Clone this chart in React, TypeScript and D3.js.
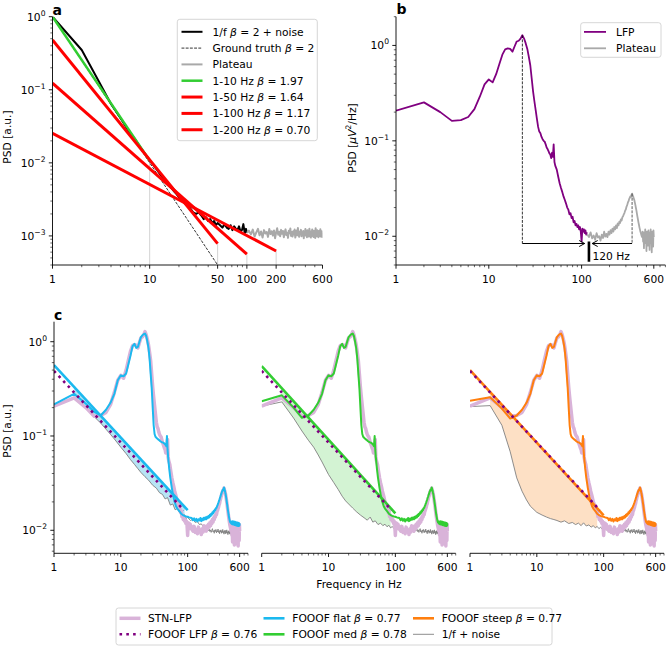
import React from "react";
import * as d3 from "d3";

const FONT = "DejaVu Sans, Verdana, sans-serif";
const FS = 10.7;

// ---------------- Panel a data ----------------
const A_NOISE_F = [1,2,3,4,5,6,7,8,9,10,11,12,13,14,15,16,17,18,19,20,22,24,26,28,30,32,34,36,38,40,42,44,46,48,50,53,56,59,62,65,68,71,74,77,80,83,86,89,92,95,98,100];
const A_NOISE_P = [1.0,0.35,0.13,0.064,0.041,0.028,0.0215,0.0165,0.0132,0.0108,0.0092,0.0079,0.0068,0.006,0.0054,0.0048,0.0044,0.004,0.0037,0.0034,0.003,0.0027,0.0024,0.0021,0.0020,0.0021,0.0019,0.0017,0.0018,0.0016,0.0017,0.0015,0.0016,0.0014,0.0015,0.0014,0.0013,0.00145,0.0013,0.00125,0.0014,0.0012,0.00135,0.00125,0.0012,0.00135,0.00115,0.0012,0.00145,0.0011,0.00125,0.0011];
// plateau: 100 Hz .. 600 Hz, 5 Hz steps
const A_PLATEAU_START = 100;
const A_PLATEAU_STEP = 5;
const A_PLATEAU_P = [
1.10e-3,1.18e-3,1.05e-3,1.22e-3,0.98e-3,1.12e-3,1.25e-3,1.02e-3,1.15e-3,0.95e-3,1.20e-3,1.08e-3,1.13e-3,0.97e-3,1.24e-3,1.06e-3,1.16e-3,1.01e-3,1.19e-3,0.93e-3,
1.11e-3,1.27e-3,1.04e-3,1.14e-3,0.99e-3,1.21e-3,1.07e-3,1.17e-3,0.96e-3,1.12e-3,1.23e-3,1.03e-3,1.10e-3,0.94e-3,1.18e-3,1.09e-3,1.26e-3,1.00e-3,1.13e-3,0.98e-3,
1.16e-3,1.05e-3,1.22e-3,0.95e-3,1.11e-3,1.19e-3,1.02e-3,1.28e-3,1.06e-3,0.97e-3,1.14e-3,1.08e-3,1.21e-3,0.99e-3,1.12e-3,1.04e-3,1.17e-3,0.93e-3,1.15e-3,1.07e-3,
1.24e-3,1.01e-3,1.10e-3,0.96e-3,1.20e-3,1.09e-3,1.13e-3,0.98e-3,1.25e-3,1.03e-3,1.16e-3,0.95e-3,1.11e-3,1.06e-3,1.22e-3,1.00e-3,1.14e-3,0.97e-3,1.18e-3,1.08e-3,
1.12e-3,0.94e-3,1.27e-3,1.05e-3,1.15e-3,0.99e-3,1.20e-3,1.02e-3,1.10e-3,0.96e-3,1.17e-3,1.07e-3,1.13e-3,1.00e-3,1.23e-3,0.98e-3,1.11e-3,1.04e-3,1.16e-3,0.97e-3,1.09e-3];
const A_FIT_NAMES = ["1-10 Hz", "1-50 Hz", "1-100 Hz", "1-200 Hz"];
const A_FIT_END = [10, 50, 100, 200];
const A_FIT_OFFSET = [1.0, 0.48, 0.123, 0.0254];
const A_FIT_BETA = [1.97, 1.64, 1.17, 0.70];
const A_FIT_COLOR = ["#32cd32", "#ff0000", "#ff0000", "#ff0000"];
const A_TRUTH_BETA = 2;
const A_X_TICKS = [1, 10, 50, 100, 200, 600];

// ---------------- Panel b / c LFP data ----------------
const LFP_F = [1,2,3,4,5,6,7,8,9,10,11,12,13,14,15,16,17,18,19,20,21,22,23,24,25,26,27,28,29,30,31,32,33,34,35,36,37,38,39,40,41,42,43,44,45,46,47,48,49,50,51,52,
54,56,58,60,62,64,66,68,70,72,74,76,78,80,82,84,86,88,90,92,94,96,98,100,102,104,106,108,110,112,114];
const LFP_P = [0.207,0.253,0.20,0.162,0.165,0.178,0.215,0.29,0.39,0.44,
0.41,0.50,0.64,0.80,0.91,0.93,0.92,0.86,0.98,1.10,
1.12,1.18,1.28,1.18,1.05,0.92,0.76,0.62,0.45,0.33,
0.26,0.21,0.17,0.14,0.125,0.12,0.11,0.104,0.10,0.098,
0.092,0.085,0.082,0.078,0.074,0.072,0.066,0.075,0.068,0.092,
0.060,0.055,
0.050,0.042,0.036,0.032,0.029,0.026,0.024,0.022,0.020,0.019,0.017,0.0175,0.0155,0.016,0.014,0.0145,0.013,0.0135,0.0125,0.013,0.0118,0.0125,0.0112,0.0088,0.012,0.0112,0.0118,0.0108,0.0115,0.0104,0.011];
// LFP plateau 115..600 Hz, 5 Hz steps
const LFP_PLAT_START = 115;
const LFP_PLAT_STEP = 5;
const LFP_PLAT_P = [
0.0105,0.0098,0.0110,0.0095,0.0102,0.0092,0.0108,0.0097,0.0100,0.0090,0.0104,0.0096,0.0112,0.0099,
0.0106,0.0098,0.0112,0.0104,0.0116,0.0108,0.0120,0.0112,0.0125,0.0118,0.0130,0.0122,0.0136,0.0130,0.0142,0.0138,0.0150,0.0146,0.0158,0.0162,0.0170,0.0176,0.0186,0.0192,0.0205,0.0212,0.0225,0.0232,0.0245,0.0252,0.0262,0.0258,0.0272,0.0280,
0.0268,0.0262,0.0248,0.0240,0.0225,0.0212,0.0198,0.0186,0.0172,0.0160,0.0150,0.0140,0.0132,0.0124,0.0118,0.0112,0.0108,0.0104,0.0100,0.0098,
0.0112,0.0088,0.0105,0.0075,0.0110,0.0096,0.0118,0.0085,0.0104,0.0070,0.0112,0.0092,0.0108,0.0080,0.0115,0.0095,0.0102,0.0072,0.0110,0.0090,0.0118,0.0085,0.0105,0.0068,0.0112,0.0094,0.0108,0.0078,0.0115,0.0098];
const B_BETA_PEAK = 23;
const B_PLATEAU_PEAK = 350;
const B_CUTOFF = 120;
const B_ARROW_P = 0.0084;
const B_ARROW_ENDS = [108, 130];
const B_BAR_P = [0.0088, 0.0054];
const B_X_TICKS = [1, 10, 100, 600];

// ---------------- Panel c data ----------------
const C_NAMES = ["FOOOF flat", "FOOOF med", "FOOOF steep"];
const C_BETAS = ["0.77", "0.78", "0.77"];
const C_COLORS = ["#1bb9ef", "#32cd32", "#ff7f0e"];
const C_FILLS = ["#b6e4f5", "#d3f3d3", "#fde0c5"];
const C_LOW_F = [1, 2, 3, 4];
const C_FLAT_LOW = [0.216, 0.28, 0.22, 0.18];
const C_MED_LOW = [0.234, 0.27, 0.20, 0.156];
const C_STEEP_LOW = [0.236, 0.257, 0.195, 0.153];
const C_MID_F = [5,6,7,8,9,10,11,12,13,14,15,16,17,18,19,20,21,22,23,24,25,26,27,28,29,30,31,32,33,35,37,39,41,43,45,47,48,49,50,51,53,55,58,61,64,67,70,75,80,85,90,95,100,105,110];
const C_MID_P = [0.165,0.19,0.225,0.28,0.39,0.44,0.43,0.46,0.58,0.72,0.90,0.95,0.86,0.88,1.0,1.12,1.17,1.20,1.22,1.15,1.0,0.85,0.65,0.45,0.32,0.2,0.13,0.105,0.098,0.094,0.091,0.088,0.086,0.085,0.083,0.08,0.078,0.10,0.072,0.06,0.045,0.036,0.028,0.023,0.02,0.018,0.017,0.016,0.015,0.0145,0.0142,0.014,0.0139,0.0137,0.0136];
const C_PLAT_START = 115;
const C_PLAT_STEP = 5;
const C_PLAT_P = [
0.0135,0.0128,0.0134,0.0126,0.0132,0.0124,0.0131,0.0127,0.0135,0.0125,0.0133,0.0128,0.0136,0.0130,
0.0137,0.0131,0.0139,0.0134,0.0142,0.0137,0.0146,0.0141,0.0150,0.0146,0.0155,0.0151,0.0160,0.0157,0.0166,0.0164,0.0172,0.0172,0.0180,0.0184,0.0192,0.0198,0.0206,0.0212,0.0222,0.0228,0.0238,0.0244,0.0254,0.0262,0.0268,0.0264,0.0276,0.0284,
0.0275,0.0266,0.0252,0.0242,0.0228,0.0214,0.0200,0.0188,0.0176,0.0165,0.0155,0.0146,0.0139,0.0133,0.0128,0.0124,0.0121,0.0125,0.0119,0.0123,
0.0117,0.0124,0.0116,0.0125,0.0118,0.0123,0.0115,0.0124,0.0117,0.0122,0.0114,0.0123,0.0116,0.0121,0.0113,0.0122,0.0115,0.0120,0.0112,0.0121,0.0114,0.0119,0.0111,0.0120,0.0113,0.0118,0.0111,0.0119,0.0112,0.0118];
const C_GRAY_F = [1,2,3,4,5,6,7,8,10,12,14,16,18,20,23,26,30,34,38,42,46,50,55,60,65,70,75,80,85,90,95,100,110,120,130,140,150,160,170,180,190,200];
const C_FLAT_GRAY = [0.21,0.25,0.20,0.16,0.137,0.118,0.104,0.093,0.076,0.065,0.056,0.050,0.045,0.041,0.037,0.034,0.030,0.028,0.025,0.024,0.0215,0.0222,0.0185,0.019,0.0165,0.017,0.0155,0.0152,0.0142,0.0146,0.0133,0.0137,0.0127,0.0131,0.0121,0.0124,0.0115,0.0117,0.0110,0.0112,0.0104,0.0106];
const C_MED_GRAY = [0.207,0.23,0.155,0.113,0.09,0.076,0.063,0.053,0.039,0.032,0.027,0.023,0.0205,0.019,0.0172,0.0158,0.0145,0.0136,0.0128,0.0138,0.0122,0.0126,0.0115,0.0119,0.0112,0.0116,0.0109,0.0113,0.0106,0.0110,0.0104,0.0107,0.0101,0.0106,0.0099,0.0104,0.0097,0.0103,0.0096,0.0101,0.0095,0.0100];
const C_STEEP_GRAY = [0.205,0.21,0.13,0.068,0.036,0.026,0.021,0.018,0.0155,0.0145,0.0138,0.0133,0.0130,0.0127,0.0122,0.0126,0.0118,0.0121,0.0115,0.0119,0.0112,0.0120,0.0111,0.0114,0.0108,0.0112,0.0106,0.0110,0.0104,0.0108,0.0103,0.0107,0.0101,0.0106,0.0099,0.0104,0.0097,0.0103,0.0096,0.0101,0.0095,0.0100];
const C_TAIL_START = 205;
const C_TAIL_STEP = 5;
const C_GRAY_TAIL = [
0.0099,0.0103,0.0097,0.0101,0.0095,0.0100,0.0104,0.0096,0.0099,0.0093,0.0101,0.0097,0.0102,0.0094,0.0099,0.0096,0.0103,0.0095,0.0098,0.0092,
0.0100,0.0096,0.0101,0.0093,0.0098,0.0095,0.0102,0.0094,0.0097,0.0091,0.0099,0.0095,0.0100,0.0092,0.0097,0.0094,0.0101,0.0093,0.0096,0.0090,
0.0098,0.0094,0.0099,0.0091,0.0096,0.0093,0.0100,0.0092,0.0095,0.0089,0.0097,0.0093,0.0098,0.0090,0.0095,0.0092,0.0099,0.0091,0.0094,0.0088,
0.0096,0.0092,0.0097,0.0089,0.0094,0.0091,0.0098,0.0090,0.0093,0.0087,0.0095,0.0091,0.0096,0.0088,0.0093,0.0090,0.0097,0.0089,0.0092,0.0094];
const C_FIT_OFFSET = [0.566, 0.55, 0.50];
const C_FIT_BETA = [0.77, 0.78, 0.77];
const C_FIT_END = 100;
const C_FILL_END = [90, 85, 80];
const C_FILL_START = 2;
const LFP_FIT_OFFSET = 0.49;
const LFP_FIT_BETA = 0.76;
const LFP_FIT_END = 88;

const PINK = "#d9b3d9";
const PURPLE = "#800080";
const PLAT_GRAY = "#a9a9a9";

type Sc = d3.ScaleLogarithmic<number, number>;

const grid = (start: number, step: number, n: number) => Array.from({ length: n }, (_, i) => start + step * i);

function pathOf(sx: Sc, sy: Sc, f: number[], p: number[]) {
  const n = Math.min(f.length, p.length);
  const pts: [number, number][] = [];
  for (let i = 0; i < n; i++) pts.push([sx(f[i]), sy(p[i])]);
  return d3.line()(pts) || "";
}

function fitPath(sx: Sc, sy: Sc, off: number, beta: number, f0: number, f1: number) {
  const fs = [f0, f1];
  return pathOf(sx, sy, fs, fs.map((f) => off * Math.pow(f, -beta)));
}

function minorsOf(domain: number[], majors: number[]) {
  const out: number[] = [];
  for (let e = -4; e <= 3; e++)
    for (let k = 1; k <= 9; k++) {
      const v = k * Math.pow(10, e);
      if (v >= domain[0] * 0.9999 && v <= domain[1] * 1.0001 && !majors.some((m) => Math.abs(m - v) / v < 1e-6)) out.push(v);
    }
  return out;
}

function XAxis({ sx, y, majors }: { sx: Sc; y: number; majors: number[] }) {
  const [r0, r1] = sx.range();
  const minors = minorsOf(sx.domain(), majors);
  return (
    <g>
      <line x1={r0} x2={r1} y1={y} y2={y} stroke="#000" strokeWidth={0.9} />
      {minors.map((v, i) => (
        <line key={"m" + i} x1={sx(v)} x2={sx(v)} y1={y} y2={y + 2.2} stroke="#000" strokeWidth={0.6} />
      ))}
      {majors.map((v, i) => (
        <g key={"M" + i}>
          <line x1={sx(v)} x2={sx(v)} y1={y} y2={y + 3.7} stroke="#000" strokeWidth={0.9} />
          <text x={sx(v)} y={y + 18} textAnchor="middle" fontSize={FS}>{String(v)}</text>
        </g>
      ))}
    </g>
  );
}

function YAxis({ sy, x, label }: { sy: Sc; x: number; label: boolean }) {
  const [r0, r1] = sy.range();
  const d = sy.domain();
  const majors: number[] = [];
  for (let e = -4; e <= 1; e++) {
    const v = Math.pow(10, e);
    if (v >= d[0] && v <= d[1] * 1.0001) majors.push(v);
  }
  const minors = minorsOf(d, majors);
  return (
    <g>
      <line x1={x} x2={x} y1={r0} y2={r1} stroke="#000" strokeWidth={0.9} />
      {minors.map((v, i) => (
        <line key={"m" + i} x1={x} x2={x - 2.2} y1={sy(v)} y2={sy(v)} stroke="#000" strokeWidth={0.6} />
      ))}
      {majors.map((v, i) => {
        const e = Math.round(Math.log10(v));
        return (
          <g key={"M" + i}>
            <line x1={x} x2={x - 3.7} y1={sy(v)} y2={sy(v)} stroke="#000" strokeWidth={0.9} />
            {label && (
              <text x={x - 7} y={sy(v) + 4} textAnchor="end" fontSize={FS}>
                10<tspan dy={-5} fontSize={7.6}>{e < 0 ? "\u2212" + String(-e) : String(e)}</tspan>
              </text>
            )}
          </g>
        );
      })}
    </g>
  );
}

const Beta = ({ v }: { v: string }) => (
  <>
    <tspan fontStyle="italic">β</tspan>
    {" = " + v}
  </>
);

function LegendRow({ x0, x1, tx, y, stroke, sw, dash, children }: any) {
  return (
    <g>
      <line x1={x0} x2={x1} y1={y} y2={y} stroke={stroke} strokeWidth={sw} strokeDasharray={dash} />
      <text x={tx} y={y + 3.9} fontSize={FS}>{children}</text>
    </g>
  );
}

export default function App() {
  // scales
  const xA = d3.scaleLog().domain([1, 600]).range([52.5, 322.5]);
  const yA = d3.scaleLog().domain([4e-4, 1]).range([265, 16.7]);
  const xB = d3.scaleLog().domain([1, 800]).range([396, 665.4]);
  const yB = d3.scaleLog().domain([0.005, 2]).range([265, 16.7]);
  const yC = d3.scaleLog().domain([0.0057, 1.63]).range([553.3, 321.7]);
  const C_LEFT = [54, 261.7, 470];
  const xCs = C_LEFT.map((l) => d3.scaleLog().domain([1, 800]).range([l, l + 194]));

  const aPlatF = grid(A_PLATEAU_START, A_PLATEAU_STEP, A_PLATEAU_P.length);
  const lfpPlatF = grid(LFP_PLAT_START, LFP_PLAT_STEP, LFP_PLAT_P.length);
  const cPlatF = grid(C_PLAT_START, C_PLAT_STEP, C_PLAT_P.length);
  const tailF = grid(C_TAIL_START, C_TAIL_STEP, C_GRAY_TAIL.length);

  const lfpAllF = [...LFP_F, ...lfpPlatF];
  const lfpAllP = [...LFP_P, ...LFP_PLAT_P];
  const lows = [C_FLAT_LOW, C_MED_LOW, C_STEEP_LOW];
  const grays = [C_FLAT_GRAY, C_MED_GRAY, C_STEEP_GRAY];

  const variants = C_NAMES.map((name, i) => {
    const specF = [...C_LOW_F, ...C_MID_F, ...cPlatF];
    const specP = [...lows[i], ...C_MID_P, ...C_PLAT_P];
    const grayF = [...C_GRAY_F, ...tailF];
    const grayP = [...grays[i], ...C_GRAY_TAIL];
    return { name, i, specF, specP, grayF, grayP };
  });

  return (
    <svg width={669} height={648} style={{ position: "absolute", left: 0, top: 0, fontFamily: FONT }} fill="#000">
      <rect x={0} y={0} width={669} height={648} fill="#fff" />
      <defs>
        <clipPath id="clipA"><rect x={52.5} y={16.7} width={270} height={248.3} /></clipPath>
        <clipPath id="clipB"><rect x={396} y={16.7} width={269.4} height={248.3} /></clipPath>
        {C_LEFT.map((l, i) => (
          <clipPath key={i} id={"clipC" + i}><rect x={l} y={321.7} width={194} height={231.6} /></clipPath>
        ))}
      </defs>

      {/* ================= Panel a ================= */}
      <g clipPath="url(#clipA)" fill="none">
        {A_FIT_END.map((f, i) => (
          <line key={i} x1={xA(f)} x2={xA(f)} y1={265} y2={yA(A_FIT_OFFSET[i] * Math.pow(f, -A_FIT_BETA[i]))} stroke="#d3d3d3" strokeWidth={1} />
        ))}
        <path d={pathOf(xA, yA, A_NOISE_F, A_NOISE_P)} stroke="#000" strokeWidth={2} strokeLinejoin="round" />
        <path d={fitPath(xA, yA, 1, A_TRUTH_BETA, 1, 600)} stroke="#000" strokeWidth={0.8} strokeDasharray="2.9 1.3" />
        <path d={pathOf(xA, yA, aPlatF, A_PLATEAU_P)} stroke={PLAT_GRAY} strokeWidth={2} strokeLinejoin="round" />
        {A_FIT_END.map((f, i) => (
          <path key={i} d={fitPath(xA, yA, A_FIT_OFFSET[i], A_FIT_BETA[i], 1, f)} stroke={A_FIT_COLOR[i]} strokeWidth={i === 0 ? 2.5 : 3} />
        ))}
      </g>
      <XAxis sx={xA} y={265} majors={A_X_TICKS} />
      <YAxis sy={yA} x={52.5} label={true} />
      <text x={52.5} y={14.5} fontSize={14} fontWeight="bold">a</text>
      <text transform="translate(11,137) rotate(-90)" textAnchor="middle" fontSize={FS}>PSD [a.u.]</text>
      {/* legend a */}
      <g>
        <rect x={177.3} y={19.3} width={140} height={121.4} rx={2.5} fill="#fff" fillOpacity={0.85} stroke="#cccccc" strokeWidth={0.8} />
        <LegendRow x0={181.5} x1={202.5} tx={212.5} y={31.8} stroke="#000" sw={2}>1/f <Beta v="2" /> + noise</LegendRow>
        <LegendRow x0={181.5} x1={202.5} tx={212.5} y={48.1} stroke="#000" sw={0.8} dash="2.9 1.3">Ground truth <Beta v="2" /></LegendRow>
        <LegendRow x0={181.5} x1={202.5} tx={212.5} y={64.4} stroke={PLAT_GRAY} sw={2}>Plateau</LegendRow>
        {A_FIT_NAMES.map((n, i) => (
          <LegendRow key={i} x0={181.5} x1={202.5} tx={212.5} y={80.7 + 16.35 * i} stroke={A_FIT_COLOR[i]} sw={i === 0 ? 2.5 : 3}>
            {n + " "}<Beta v={A_FIT_BETA[i].toFixed(2)} />
          </LegendRow>
        ))}
      </g>

      {/* ================= Panel b ================= */}
      <g clipPath="url(#clipB)" fill="none">
        <path d={pathOf(xB, yB, LFP_F, LFP_P)} stroke={PURPLE} strokeWidth={1.8} strokeLinejoin="round" />
        <path d={pathOf(xB, yB, lfpPlatF, LFP_PLAT_P)} stroke={PLAT_GRAY} strokeWidth={1.8} strokeLinejoin="round" />
        <line x1={xB(B_BETA_PEAK)} x2={xB(B_BETA_PEAK)} y1={yB(LFP_P[LFP_F.indexOf(B_BETA_PEAK)])} y2={yB(B_ARROW_P)} stroke="#000" strokeWidth={0.8} strokeDasharray="2.9 1.3" />
        <line x1={xB(B_PLATEAU_PEAK)} x2={xB(B_PLATEAU_PEAK)} y1={yB(0.028)} y2={yB(B_ARROW_P)} stroke="#333" strokeWidth={0.8} strokeDasharray="2.9 1.3" />
        <line x1={xB(B_BETA_PEAK)} x2={xB(B_ARROW_ENDS[0])} y1={yB(B_ARROW_P)} y2={yB(B_ARROW_P)} stroke="#000" strokeWidth={1} />
        <path d={`M${xB(B_ARROW_ENDS[0]) - 5.5},${yB(B_ARROW_P) - 3} L${xB(B_ARROW_ENDS[0])},${yB(B_ARROW_P)} L${xB(B_ARROW_ENDS[0]) - 5.5},${yB(B_ARROW_P) + 3}`} stroke="#000" strokeWidth={1} />
        <line x1={xB(B_PLATEAU_PEAK)} x2={xB(B_ARROW_ENDS[1])} y1={yB(B_ARROW_P)} y2={yB(B_ARROW_P)} stroke="#000" strokeWidth={1} />
        <path d={`M${xB(B_ARROW_ENDS[1]) + 5.5},${yB(B_ARROW_P) - 3} L${xB(B_ARROW_ENDS[1])},${yB(B_ARROW_P)} L${xB(B_ARROW_ENDS[1]) + 5.5},${yB(B_ARROW_P) + 3}`} stroke="#000" strokeWidth={1} />
        <line x1={xB(B_CUTOFF)} x2={xB(B_CUTOFF)} y1={yB(B_BAR_P[0])} y2={yB(B_BAR_P[1])} stroke="#000" strokeWidth={2.6} />
      </g>
      <text x={xB(B_CUTOFF) + 3.5} y={260} fontSize={FS}>{B_CUTOFF} Hz</text>
      <XAxis sx={xB} y={265} majors={B_X_TICKS} />
      <YAxis sy={yB} x={396} label={true} />
      <text x={396.5} y={13.5} fontSize={14} fontWeight="bold">b</text>
      <text transform="translate(355.5,138) rotate(-90)" textAnchor="middle" fontSize={FS}>
        PSD [<tspan fontStyle="italic">μV</tspan><tspan dy={-4.5} fontSize={7.6}>2</tspan><tspan dy={4.5}>/Hz]</tspan>
      </text>
      <g>
        <rect x={580.7} y={22.7} width={80.3} height={34.6} rx={2.5} fill="#fff" fillOpacity={0.85} stroke="#cccccc" strokeWidth={0.8} />
        <LegendRow x0={584} x1={606} tx={616} y={31.9} stroke={PURPLE} sw={1.8}>LFP</LegendRow>
        <LegendRow x0={584} x1={606} tx={616} y={48.3} stroke={PLAT_GRAY} sw={1.8}>Plateau</LegendRow>
      </g>

      {/* ================= Panel c ================= */}
      {variants.map((v) => {
        const xs = xCs[v.i];
        const off = C_FIT_OFFSET[v.i];
        const beta = C_FIT_BETA[v.i];
        const fillIdx = v.grayF.map((f, k) => k).filter((k) => v.grayF[k] >= C_FILL_START && v.grayF[k] <= C_FILL_END[v.i]);
        const area = d3
          .area<number>()
          .x((k) => xs(v.grayF[k]))
          .y0((k) => yC(v.grayP[k]))
          .y1((k) => yC(off * Math.pow(v.grayF[k], -beta)))(fillIdx) || "";
        return (
          <g key={v.i}>
            <g clipPath={`url(#clipC${v.i})`} fill="none">
              <path d={area} fill={C_FILLS[v.i]} stroke="none" />
              <path d={pathOf(xs, yC, v.grayF, v.grayP)} stroke="#808080" strokeWidth={0.9} strokeLinejoin="round" />
              <path d={pathOf(xs, yC, lfpAllF, lfpAllP)} stroke={PINK} strokeWidth={3.5} strokeLinejoin="round" />
              <path d={pathOf(xs, yC, v.specF, v.specP)} stroke={C_COLORS[v.i]} strokeWidth={2} strokeLinejoin="round" />
              <path d={fitPath(xs, yC, off, beta, 1, C_FIT_END)} stroke={C_COLORS[v.i]} strokeWidth={2.6} />
              <path d={fitPath(xs, yC, LFP_FIT_OFFSET, LFP_FIT_BETA, 1, LFP_FIT_END)} stroke={PURPLE} strokeWidth={2.6} strokeDasharray="2.6 4.2" />
            </g>
            <XAxis sx={xs} y={553.3} majors={B_X_TICKS} />
            {v.i === 0 && <YAxis sy={yC} x={54} label={true} />}
          </g>
        );
      })}
      <text x={54} y={319.5} fontSize={14} fontWeight="bold">c</text>
      <text transform="translate(11,431) rotate(-90)" textAnchor="middle" fontSize={FS}>PSD [a.u.]</text>
      <text x={359} y={588} textAnchor="middle" fontSize={FS}>Frequency in Hz</text>

      {/* bottom legend */}
      <g>
        <rect x={116} y={608} width={436} height={37} rx={2.5} fill="#fff" stroke="#cccccc" strokeWidth={0.8} />
        <LegendRow x0={119.5} x1={140.5} tx={148} y={618.3} stroke={PINK} sw={3.5}>STN-LFP</LegendRow>
        <LegendRow x0={119.5} x1={140.5} tx={148} y={634.3} stroke={PURPLE} sw={2.6} dash="2.6 4.2">FOOOF LFP <Beta v={LFP_FIT_BETA.toFixed(2)} /></LegendRow>
        <LegendRow x0={263.5} x1={284.5} tx={292.3} y={618.3} stroke={C_COLORS[0]} sw={2.6}>{C_NAMES[0] + " "}<Beta v={C_BETAS[0]} /></LegendRow>
        <LegendRow x0={263.5} x1={284.5} tx={292.3} y={634.3} stroke={C_COLORS[1]} sw={2.6}>{C_NAMES[1] + " "}<Beta v={C_BETAS[1]} /></LegendRow>
        <LegendRow x0={413} x1={434} tx={441.7} y={618.3} stroke={C_COLORS[2]} sw={2.6}>{C_NAMES[2] + " "}<Beta v={C_BETAS[2]} /></LegendRow>
        <LegendRow x0={413} x1={434} tx={441.7} y={634.3} stroke="#808080" sw={0.9}>1/f + noise</LegendRow>
      </g>
    </svg>
  );
}
